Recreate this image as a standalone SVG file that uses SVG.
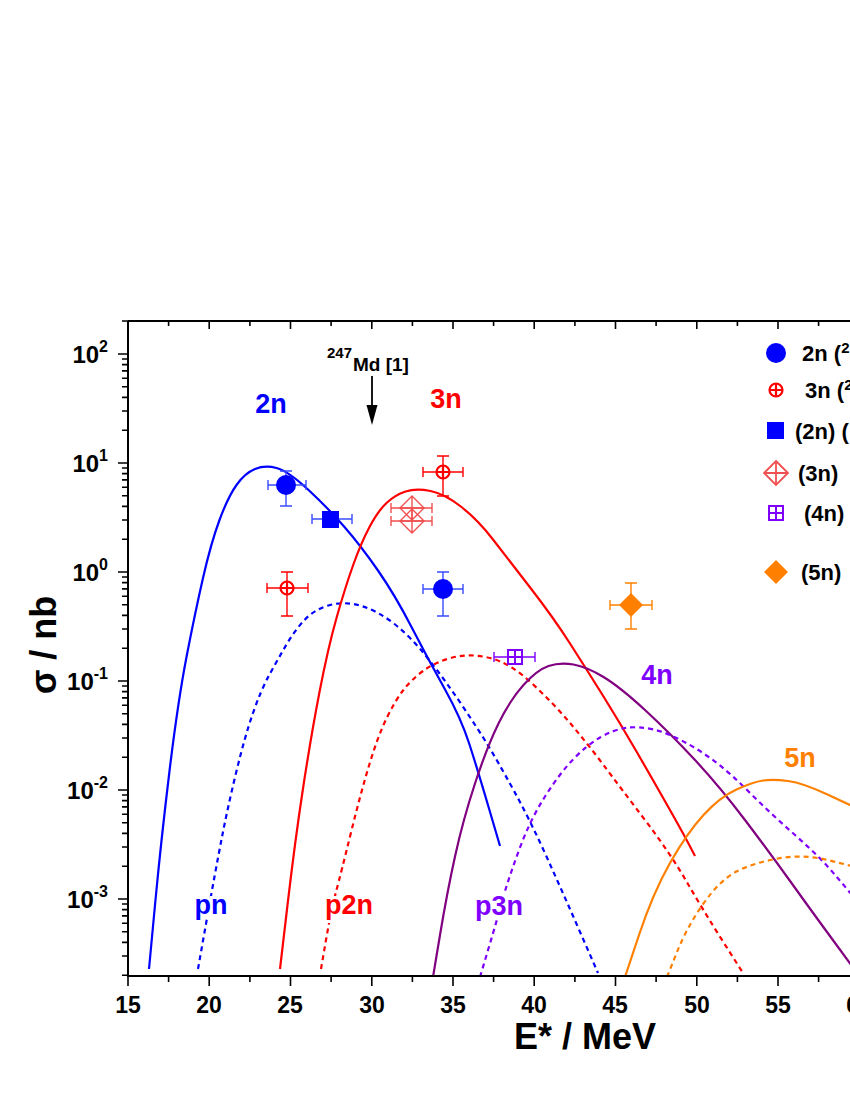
<svg xmlns="http://www.w3.org/2000/svg" width="850" height="1100" viewBox="0 0 850 1100">
<style>
text{font-family:"Liberation Sans",Arial,sans-serif;font-weight:bold}
.c{fill:none;stroke-width:2.2;stroke-linejoin:round}
.d{fill:none;stroke-width:2.2;stroke-dasharray:5 4}
.ax{stroke:#000;stroke-width:2;fill:none}
.tk{stroke:#000;stroke-width:1.6}
.tl{font-size:23px;text-anchor:middle}
.yl{font-size:24px;text-anchor:end}
.lab{font-size:27px;text-anchor:middle;stroke:#fff;stroke-width:6;paint-order:stroke}
.lg{font-size:22px}
.eb{stroke-width:1.4;fill:none}
</style>
<rect width="850" height="1100" fill="#fff"/>
<g id="curves">
<path class="c" stroke="#0000ff" d="M149,969 L155,905 Q161,841 169.5,771 Q178,701 186.5,657 Q195,613 203,578 Q211,543 219.5,520 Q228,497 236.5,485 Q245,473 255,469 Q265,465 276.5,468 Q288,471 308,489.5 Q328,508 344.5,527 Q361,546 378,570.5 Q395,595 411.5,627 Q428,659 444.5,688.5 Q461,718 469.5,744.5 Q478,771 489,808.5 L500,846"/>
<path class="d" stroke="#0000ff" d="M198,969 L206.5,921 Q215,873 221.5,839.5 Q228,806 236.5,771 Q245,736 253,713 Q261,690 269.5,674.5 Q278,659 286.5,644.5 Q295,630 305,619.5 Q315,609 330,605 Q345,601 361.5,606 Q378,611 394.5,624 Q411,637 428,658.5 Q445,680 461.5,704.5 Q478,729 487.5,744.5 Q497,760 513.5,790 Q530,820 546.5,856.5 Q563,893 580.5,933 L598,973"/>
<path class="c" stroke="#ff0000" d="M280,969 L287.5,905 Q295,841 303,788.5 Q311,736 319.5,692 Q328,648 336.5,618 Q345,588 353,565.5 Q361,543 369.5,527 Q378,511 386.5,503 Q395,495 405.5,491.5 Q416,488 430.5,491 Q445,494 461.5,507 Q478,520 493,539.5 Q508,559 530.5,588 Q553,617 570,643.5 Q587,670 603.5,696.5 Q620,723 636.5,751.5 Q653,780 668,806.5 Q683,833 689,844.5 L695,856"/>
<path class="d" stroke="#ff0000" d="M321,969 L326,940 Q331,911 336,892 Q341,873 351,832.5 Q361,792 369.5,764 Q378,736 386.5,718.5 Q395,701 403,690.5 Q411,680 423,671 Q435,662 452.5,657.5 Q470,653 490,658 Q510,663 531.5,683 Q553,703 570,723 Q587,743 603.5,765 Q620,787 645,820 Q670,853 686.5,881.5 Q703,910 723,941.5 L743,973"/>
<path class="c" stroke="#800080" d="M433,977 L440,935 Q447,893 455,856.5 Q463,820 475,783.5 Q487,747 498.5,723.5 Q510,700 523.5,685 Q537,670 548.5,666 Q560,662 573.5,664.5 Q587,667 603.5,677 Q620,687 645,710 Q670,733 695,760 Q720,787 745,820 Q770,853 791.5,883 Q813,913 832.5,939.5 L852,966"/>
<path class="d" stroke="#8000ff" d="M480,977 L488.5,948.5 Q497,920 502,901.5 Q507,883 518.5,851.5 Q530,820 545,796.5 Q560,773 573.5,759 Q587,745 600,737.5 Q613,730 625,728 Q637,726 653.5,729.5 Q670,733 695,748 Q720,763 745,788 Q770,813 795,835 Q820,857 836,876 L852,895"/>
<path class="c" stroke="#ff8000" d="M625,977 L639,935 Q653,893 670,863 Q687,833 703.5,815 Q720,797 736.5,789.5 Q753,782 763,780.5 Q773,779 788,781 Q803,783 827.5,794.5 L852,806"/>
<path class="d" stroke="#ff8000" d="M667,977 L677,952 Q687,927 703.5,903.5 Q720,880 736.5,871.5 Q753,863 778,858.5 Q803,854 827.5,860 L852,866"/>
</g>
<g id="curve-labels">
<text class="lab" x="271" y="413" fill="#0000ff">2n</text>
<text class="lab" x="446" y="408" fill="#ff0000">3n</text>
<text class="lab" x="657" y="684" fill="#8000ff">4n</text>
<text class="lab" x="800" y="767" fill="#ff8000">5n</text>
<text class="lab" x="211" y="914" fill="#0000ff">pn</text>
<text class="lab" x="349" y="914" fill="#ff0000">p2n</text>
<text class="lab" x="499" y="915" fill="#8000ff">p3n</text>
</g>
<g id="data">
<g stroke="#3a4cff" class="eb">
<path d="M286,471V506M280,471H292M280,506H292M268,485H306M268,480V490M306,480V490"/>
<path d="M443,572V616M437,572H449M437,616H449M423,589H463M423,584V594M463,584V594"/>
<path d="M312,519H352M312,514V524M352,514V524"/>
</g>
<circle cx="286" cy="485" r="10" fill="#0000ff"/>
<circle cx="443" cy="589" r="10" fill="#0000ff"/>
<rect x="322" y="511" width="17" height="17" fill="#0000ff"/>
<g stroke="#ff0000" class="eb">
<path d="M287,572V616M281,572H293M281,616H293M267,588H308M267,583V593M308,583V593"/>
<path d="M443,456V496M437,456H449M437,496H449M423,472H463M423,467V477M463,467V477"/>
</g>
<g stroke="#ff0000" stroke-width="2.2" fill="#fff">
<circle cx="287" cy="588" r="6.5"/><path d="M280.5,588H293.5M287,581.5V594.5"/>
<circle cx="443" cy="472" r="6.5"/><path d="M436.5,472H449.5M443,465.5V478.5"/>
</g>
<g stroke="#f05050" class="eb" stroke-width="1.8">
<path d="M391,508H432M391,503V513M432,503V513M391,521H432M391,516V526M432,516V526"/>
<path d="M412,496L424,508L412,520L400,508ZM400,508H424M412,496V520"/>
<path d="M412,509L424,521L412,533L400,521ZM400,521H424M412,509V533"/>
</g>
<g stroke="#8000ff" class="eb">
<path d="M494,657H535M494,652V662M535,652V662"/>
</g>
<g stroke="#8000ff" stroke-width="2" fill="#fff"><rect x="508" y="650" width="14" height="14"/><path d="M508,657H522M515,650V664"/></g>
<g stroke="#ff8000" class="eb">
<path d="M631,583V629M625,583H637M625,629H637M610,605H652M610,600V610M652,600V610"/>
</g>
<path d="M631,593L643,605L631,617L619,605Z" fill="#ff8000"/>
</g>
<g id="legend">
<circle cx="776" cy="353" r="10" fill="#0000ff"/>
<text class="lg" x="802" y="361">2n (<tspan font-size="15" dy="-8">2</tspan></text>
<g stroke="#ff0000" stroke-width="2.2" fill="#fff"><circle cx="776" cy="390" r="6.5"/><path d="M769.5,390H782.5M776,383.5V396.5"/></g>
<text class="lg" x="805" y="398">3n (<tspan font-size="15" dy="-8">2</tspan></text>
<rect x="767" y="422" width="17" height="17" fill="#0000ff"/>
<text class="lg" x="795" y="439">(2n) (</text>
<g stroke="#f05050" stroke-width="1.8" fill="none"><path d="M776,461L788,473L776,485L764,473ZM764,473H788M776,461V485"/></g>
<text class="lg" x="798" y="481">(3n)</text>
<g stroke="#8000ff" stroke-width="2" fill="#fff"><rect x="769" y="506" width="14" height="14"/><path d="M769,513H783M776,506V520"/></g>
<text class="lg" x="804" y="521">(4n)</text>
<path d="M776,560L788,572L776,584L764,572Z" fill="#ff8000"/>
<text class="lg" x="801" y="580">(5n)</text>
</g>
<g id="annotation">
<text x="327" y="358" font-size="15">247</text>
<text x="353" y="371" font-size="19">Md [1]</text>
<path d="M372,376V410" stroke="#000" stroke-width="1.8"/>
<path d="M366.5,405L372,425L377.5,405Z" fill="#000"/>
</g>
<g id="axes">
<path class="ax" d="M128,321V976H860M128,321H860"/>
<path class="tk" d="M128,976v10M168.6,976v6M209.2,976v10M249.9,976v6M290.5,976v10M331.1,976v6M371.8,976v10M412.4,976v6M453,976v10M493.6,976v6M534.2,976v10M574.9,976v6M615.5,976v10M656.1,976v6M696.8,976v10M737.4,976v6M778,976v10M818.6,976v6M859,976v10"/>
<path class="tk" d="M168.6,321v5M209.2,321v8M249.9,321v5M290.5,321v8M331.1,321v5M371.8,321v8M412.4,321v5M453,321v8M493.6,321v5M534.2,321v8M574.9,321v5M615.5,321v8M656.1,321v5M696.8,321v8M737.4,321v5M778,321v8M818.6,321v5"/>
<path class="tk" d="M118,354h10M118,463h10M118,572h10M118,681h10M118,790h10M118,899h10
M122,321h6
M122,430.2h6M122,411h6M122,397.4h6M122,386.8h6M122,378.2h6M122,370.9h6M122,364.6h6M122,359h6
M122,539.2h6M122,520h6M122,506.4h6M122,495.8h6M122,487.2h6M122,479.9h6M122,473.6h6M122,468h6
M122,648.2h6M122,629h6M122,615.4h6M122,604.8h6M122,596.2h6M122,588.9h6M122,582.6h6M122,577h6
M122,757.2h6M122,738h6M122,724.4h6M122,713.8h6M122,705.2h6M122,697.9h6M122,691.6h6M122,686h6
M122,866.2h6M122,847h6M122,833.4h6M122,822.8h6M122,814.2h6M122,806.9h6M122,800.6h6M122,795h6
M122,975.2h6M122,956h6M122,942.4h6M122,931.8h6M122,923.2h6M122,915.9h6M122,909.6h6M122,904h6"/>
<text class="tl" x="128" y="1013">15</text>
<text class="tl" x="209" y="1013">20</text>
<text class="tl" x="290" y="1013">25</text>
<text class="tl" x="372" y="1013">30</text>
<text class="tl" x="453" y="1013">35</text>
<text class="tl" x="534" y="1013">40</text>
<text class="tl" x="615" y="1013">45</text>
<text class="tl" x="697" y="1013">50</text>
<text class="tl" x="778" y="1013">55</text>
<text class="tl" x="859" y="1013">60</text>
<text class="yl" x="108" y="363">10<tspan font-size="16" dy="-11">2</tspan></text>
<text class="yl" x="108" y="472">10<tspan font-size="16" dy="-11">1</tspan></text>
<text class="yl" x="108" y="581">10<tspan font-size="16" dy="-11">0</tspan></text>
<text class="yl" x="108" y="690">10<tspan font-size="16" dy="-11">-1</tspan></text>
<text class="yl" x="108" y="799">10<tspan font-size="16" dy="-11">-2</tspan></text>
<text class="yl" x="108" y="908">10<tspan font-size="16" dy="-11">-3</tspan></text>
<text x="585" y="1049" font-size="36" text-anchor="middle">E* / MeV</text>
<text x="0" y="0" font-size="36" text-anchor="middle" transform="translate(56,645) rotate(-90)">σ / nb</text>
</g>
</svg>
